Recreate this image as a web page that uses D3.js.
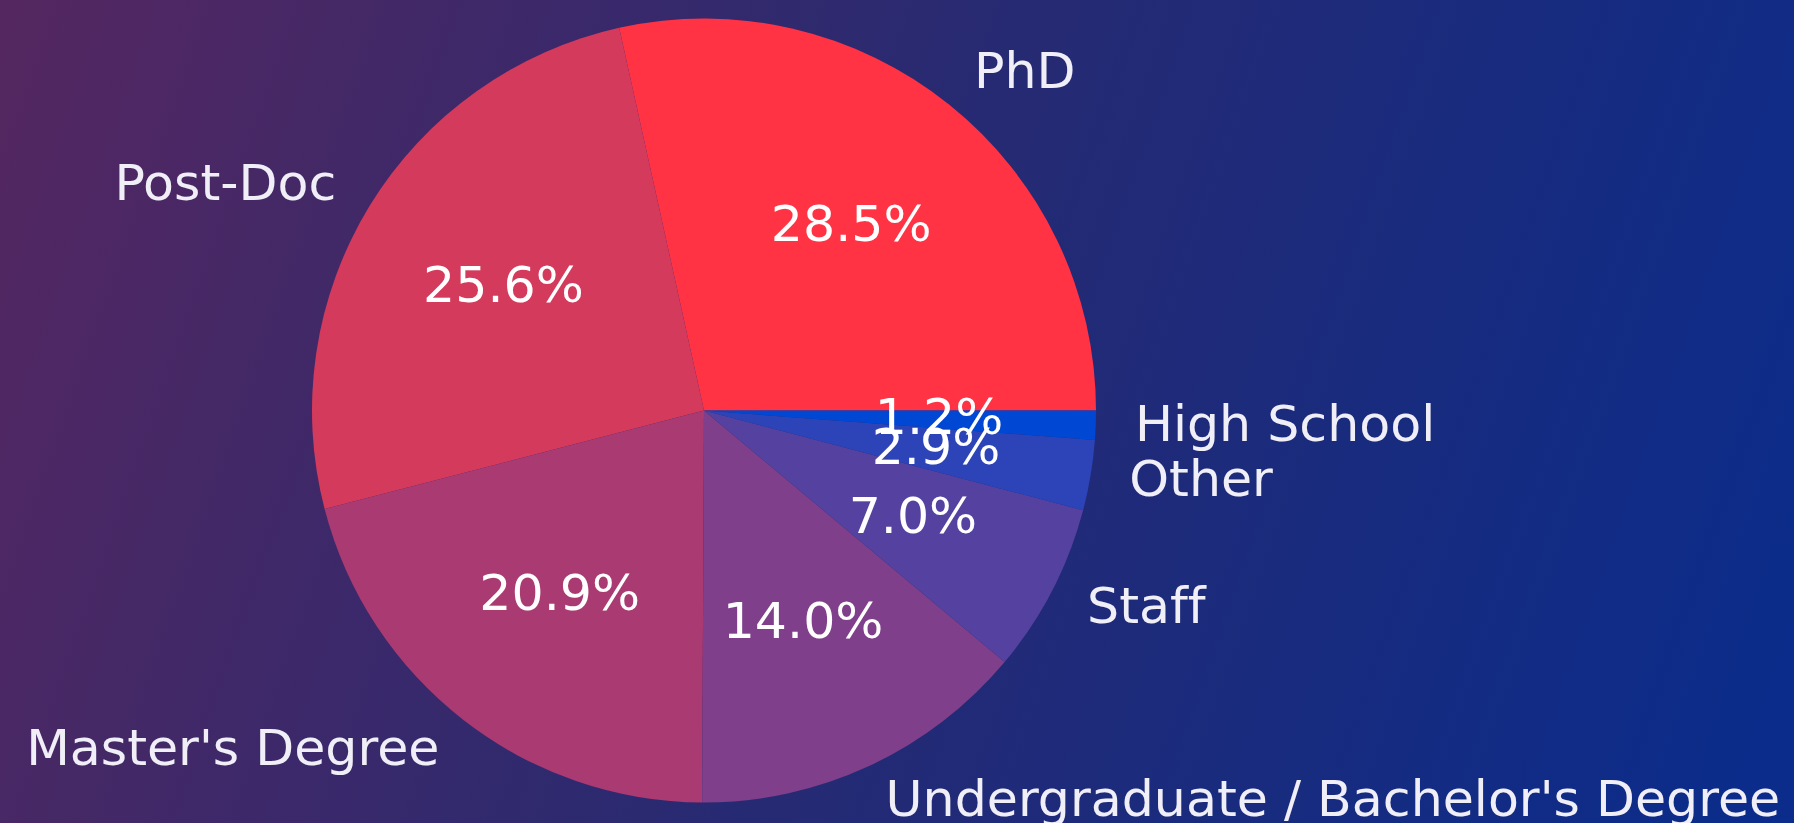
<!DOCTYPE html>
<html>
<head>
<meta charset="utf-8">
<script src="https://cdn.jsdelivr.net/npm/d3@7"></script>
<style>
  html, body { margin: 0; padding: 0; overflow: hidden; }
  svg { display: block; }
  text { font-variant-ligatures: none; font-feature-settings: "liga" 0; }
</style>
</head>
<body>
<svg id="chart" width="1794" height="823"></svg>
<script>
const categories = ["PhD", "Post-Doc", "Master's Degree", "Undergraduate / Bachelor's Degree", "Staff", "Other", "High School"];
const values = [28.5, 25.6, 20.9, 14.0, 7.0, 2.9, 1.2];
const colors = ["#ff3344", "#d43a5c", "#aa3a72", "#7f3f8a", "#5542a0", "#2d44b8", "#0048d4"];

const W = 1794, H = 823;
const cx = 704, cy = 410.5, R = 392;

const svg = d3.select("#chart");
const defs = svg.append("defs");
const grad = defs.append("linearGradient")
  .attr("id", "bg").attr("gradientUnits", "userSpaceOnUse")
  .attr("x1", 0).attr("y1", 0).attr("x2", 1794).attr("y2", 628);
grad.append("stop").attr("offset", 0).attr("stop-color", "#552760");
grad.append("stop").attr("offset", 0.5).attr("stop-color", "#272a72");
grad.append("stop").attr("offset", 1).attr("stop-color", "#0b2c8a");
svg.append("rect").attr("width", W).attr("height", H).attr("fill", "url(#bg)");

const data = categories.map((c, i) => ({ label: c, value: values[i], color: colors[i] }));
const total = d3.sum(values);

// matplotlib-style: start at 3 o'clock, counterclockwise
const pie = d3.pie().value(d => d.value).sort(null)
  .startAngle(Math.PI / 2).endAngle(Math.PI / 2 - 2 * Math.PI);
const arcs = pie(data);
const arc = d3.arc().innerRadius(0).outerRadius(R);

const g = svg.append("g").attr("transform", `translate(${cx},${cy})`);
g.selectAll("path.slice").data(arcs).join("path")
  .attr("class", "slice")
  .attr("d", arc)
  .attr("fill", d => d.data.color);

const font = "'DejaVu Sans', sans-serif";
const fs = 50.6;
function pos(d, k) {
  const a = (d.startAngle + d.endAngle) / 2; // d3 angle: clockwise from 12 o'clock
  return [k * R * Math.sin(a), -k * R * Math.cos(a)];
}

// outer labels
g.selectAll("text.lab").data(arcs).join("text")
  .attr("class", "lab")
  .attr("x", d => pos(d, 1.1)[0])
  .attr("y", d => pos(d, 1.1)[1])
  .attr("dy", "0.28em")
  .attr("text-anchor", d => pos(d, 1.1)[0] > 0 ? "start" : "end")
  .attr("font-family", font).attr("font-size", fs)
  .attr("fill", "#f0eef6")
  .text(d => d.data.label);

// percent labels
g.selectAll("text.pct").data(arcs).join("text")
  .attr("class", "pct")
  .attr("x", d => pos(d, 0.6)[0])
  .attr("y", d => pos(d, 0.6)[1])
  .attr("dy", "0.28em")
  .attr("text-anchor", "middle")
  .attr("font-family", font).attr("font-size", fs)
  .attr("fill", "#ffffff")
  .text(d => (d.data.value / total * 100).toFixed(1) + "%");
</script>
</body>
</html>
